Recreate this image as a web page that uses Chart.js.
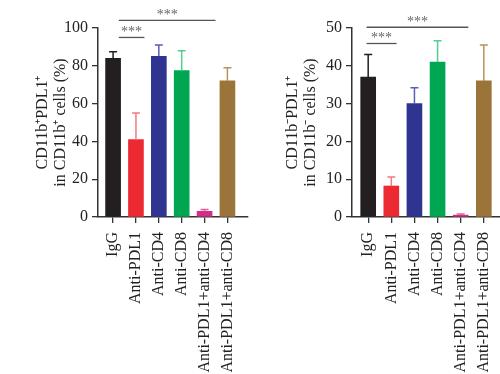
<!DOCTYPE html>
<html>
<head>
<meta charset="utf-8">
<script src="https://cdn.jsdelivr.net/npm/chart.js@4.4.0/dist/chart.umd.min.js"></script>
<style>
body { margin:0; background:#fff; }
#wrap { position:relative; width:500px; height:374px; }
canvas { position:absolute; top:0; }
#c1 { left:0; }
#c2 { left:250px; }
</style>
</head>
<body>
<div id="wrap">
  <canvas id="c1" width="250" height="374"></canvas>
  <canvas id="c2" width="250" height="374"></canvas>
</div>
<script>
// groups and colours
const groups = ["IgG", "Anti-PDL1", "Anti-CD4", "Anti-CD8", "Anti-PDL1+anti-CD4", "Anti-PDL1+anti-CD8"];
const barColors = ["#231f20", "#ec2a32", "#2e3490", "#00a651", "#d22e85", "#9b7439"];
const errColors = ["#231f20", "#f07c80", "#5a5fb0", "#4fcf90", "#e0609f", "#b8925a"];

// CD11b+ PDL1+ in CD11b+ cells (%)
const posValues = [84, 41, 85, 77.5, 3, 72];
const posErrors = [3.5, 14, 6, 10.5, 1, 7];
const posTicks = [0, 20, 40, 60, 80, 100];
const posBrackets = [[0.25, 1.37, 95], [0.25, 4.48, 104]];

// CD11b- PDL1+ in CD11b- cells (%)
const negValues = [37, 8.2, 30, 41, 0.5, 36];
const negErrors = [6, 2.4, 4.2, 5.6, 0.3, 9.5];
const negTicks = [0, 10, 20, 30, 40, 50];
const negBrackets = [[-0.07, 1.23, 45.9], [-0.07, 4.33, 50.2]];

const serif = "'Liberation Serif', 'Times New Roman', serif";
const axisColor = "#333";

const extras = {
  id: "extras",
  afterDatasetsDraw(chart, args, opts) {
    const ctx = chart.ctx;
    const xs = chart.scales.x, ys = chart.scales.y;
    const meta = chart.getDatasetMeta(0);
    const vals = chart.data.datasets[0].data;
    ctx.save();
    // upper error bars
    ctx.lineWidth = 1.5;
    meta.data.forEach(function(bar, i){
      const yBase = ys.getPixelForValue(vals[i].y);
      const yTop = ys.getPixelForValue(vals[i].y + opts.errors[i]);
      ctx.strokeStyle = errColors[i];
      ctx.beginPath();
      ctx.moveTo(bar.x, yBase);
      ctx.lineTo(bar.x, yTop);
      ctx.moveTo(bar.x - 4, yTop);
      ctx.lineTo(bar.x + 4, yTop);
      ctx.stroke();
    });
    // significance lines
    ctx.strokeStyle = "#555";
    ctx.fillStyle = "#666";
    ctx.lineWidth = 1.3;
    ctx.font = "14px " + serif;
    ctx.textAlign = "center";
    ctx.textBaseline = "alphabetic";
    opts.brackets.forEach(function(b){
      const x1 = xs.getPixelForValue(b[0]);
      const x2 = xs.getPixelForValue(b[1]);
      const y = ys.getPixelForValue(b[2]);
      ctx.beginPath();
      ctx.moveTo(x1, y);
      ctx.lineTo(x2, y);
      ctx.stroke();
      ctx.fillText("***", (x1 + x2) / 2, y - 1);
    });
    ctx.restore();
  }
};

function makeChart(id, values, errors, yTicks, brackets, titleLines, yWidth, xMin, xMax, padRight) {
  const ctx = document.getElementById(id).getContext("2d");
  return new Chart(ctx, {
    type: "bar",
    data: {
      datasets: [{
        data: values.map(function(v, i){ return {x: i, y: v}; }),
        backgroundColor: barColors,
        borderWidth: 0,
        barThickness: 15
      }]
    },
    options: {
      responsive: false,
      animation: false,
      layout: { padding: { top: 28, right: padRight, left: 0, bottom: 0 } },
      plugins: {
        legend: { display: false },
        tooltip: { enabled: false },
        extras: { errors: errors, brackets: brackets }
      },
      scales: {
        x: {
          type: "linear",
          min: xMin,
          max: xMax,
          offset: false,
          afterBuildTicks: function(s){ s.ticks = groups.map(function(g, i){ return {value: i}; }); },
          afterFit: function(s){ s.height = 157; s.paddingLeft = 0; s.paddingRight = 0; },
          grid: { drawOnChartArea: false, offset: false, tickLength: 6, color: axisColor, lineWidth: 1.3 },
          border: { display: true, color: axisColor, width: 1.5 },
          ticks: {
            autoSkip: false,
            maxRotation: 90,
            minRotation: 90,
            padding: 9,
            color: "#222",
            font: { family: serif, size: 16 },
            callback: function(v){ return groups[Math.round(v)]; }
          }
        },
        y: {
          min: yTicks[0],
          max: yTicks[yTicks.length - 1],
          afterBuildTicks: function(s){ s.ticks = yTicks.map(function(v){ return {value: v}; }); },
          afterFit: function(s){ s.width = yWidth; },
          grid: { drawOnChartArea: false, tickLength: 6, color: axisColor, lineWidth: 1.3 },
          border: { display: true, color: axisColor, width: 1.5 },
          ticks: { padding: 4, color: "#222", font: { family: serif, size: 16 } },
          title: {
            display: true,
            text: titleLines,
            color: "#222",
            font: { family: serif, size: 16, lineHeight: 1.1 },
            padding: { top: 34, bottom: 0 }
          }
        }
      }
    },
    plugins: [extras]
  });
}

makeChart("c1", posValues, posErrors, posTicks, posBrackets,
  ["CD11b\u207APDL1\u207A", "in CD11b\u207A cells (%)"], 98, -0.66, 5.9, 2);
makeChart("c2", negValues, negErrors, negTicks, negBrackets,
  ["CD11b\u207BPDL1\u207A", "in CD11b\u207B cells (%)"], 102, -0.7, 5.7, 0);
</script>
</body>
</html>
